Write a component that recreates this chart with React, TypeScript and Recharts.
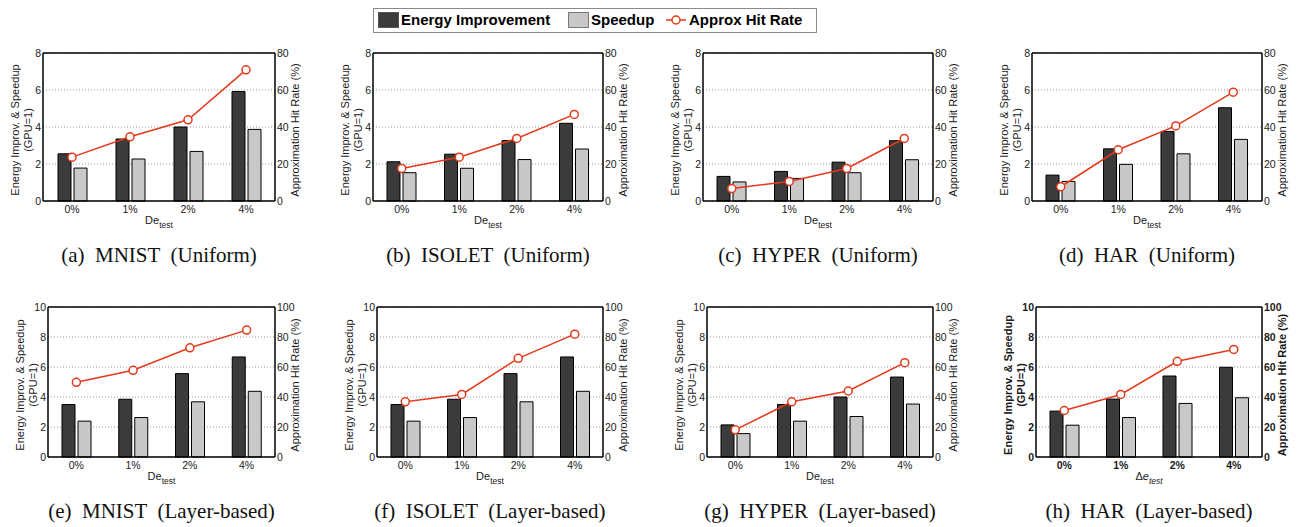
import { ComposedChart, Bar, Line, XAxis, YAxis, CartesianGrid, ReferenceLine } from 'recharts'

// ---------------------------------------------------------------------------
// Data
// ---------------------------------------------------------------------------

const CATEGORIES = ['0%', '1%', '2%', '4%']

const UNIFORM_LEFT_TICKS = [0, 2, 4, 6, 8]
const UNIFORM_RIGHT_TICKS = [0, 20, 40, 60, 80]
const LAYER_LEFT_TICKS = [0, 2, 4, 6, 8, 10]
const LAYER_RIGHT_TICKS = [0, 20, 40, 60, 80, 100]

const mnistUniformEnergy = [2.55, 3.35, 4.0, 5.92]
const mnistUniformSpeedup = [1.78, 2.27, 2.68, 3.87]
const mnistUniformHit = [23.7, 34.7, 43.9, 70.9]

const isoletUniformEnergy = [2.12, 2.53, 3.27, 4.2]
const isoletUniformSpeedup = [1.53, 1.77, 2.24, 2.81]
const isoletUniformHit = [17.6, 23.7, 33.8, 46.8]

const hyperUniformEnergy = [1.33, 1.6, 2.1, 3.26]
const hyperUniformSpeedup = [1.03, 1.22, 1.53, 2.23]
const hyperUniformHit = [6.7, 10.6, 17.6, 33.8]

const harUniformEnergy = [1.4, 2.82, 3.76, 5.04]
const harUniformSpeedup = [1.06, 1.98, 2.55, 3.33]
const harUniformHit = [7.7, 27.7, 40.6, 58.8]

const mnistLayerEnergy = [3.5, 3.85, 5.56, 6.67]
const mnistLayerSpeedup = [2.39, 2.63, 3.68, 4.38]
const mnistLayerHit = [49.8, 57.8, 72.8, 84.6]

const isoletLayerEnergy = [3.5, 3.85, 5.56, 6.67]
const isoletLayerSpeedup = [2.39, 2.63, 3.68, 4.38]
const isoletLayerHit = [36.8, 41.7, 65.8, 81.9]

const hyperLayerEnergy = [2.14, 3.5, 4.0, 5.33]
const hyperLayerSpeedup = [1.56, 2.39, 2.7, 3.53]
const hyperLayerHit = [18.1, 36.8, 44.0, 62.9]

const harLayerEnergy = [3.06, 3.86, 5.4, 5.98]
const harLayerSpeedup = [2.12, 2.63, 3.57, 3.95]
const harLayerHit = [31.0, 41.7, 63.8, 71.7]

// ---------------------------------------------------------------------------
// Colors / fonts
// ---------------------------------------------------------------------------

const DARK = '#3b3b3b'
const LIGHT = '#c8c8c8'
const RED = '#e4391b'
const SANS = '"Liberation Sans", Arial, Helvetica, sans-serif'
const SERIF = '"Liberation Serif", "Times New Roman", serif'

const AXIS_W = 45
const TOP_PAD = 10
const XAXIS_H = 40

// ---------------------------------------------------------------------------
// Panel
// ---------------------------------------------------------------------------

interface PanelProps {
  left: number
  top: number
  plotW: number
  plotH: number
  leftTicks: number[]
  rightTicks: number[]
  energy: number[]
  speedup: number[]
  hit: number[]
  caption: string
  bold?: boolean
}

function Panel({ left, top, plotW, plotH, leftTicks, rightTicks, energy, speedup, hit, caption, bold }: PanelProps) {
  const rows = CATEGORIES.map((cat, i) => ({
    cat,
    energy: energy[i],
    speedup: speedup[i],
    hit: hit[i],
  }))
  const yMax = leftTicks[leftTicks.length - 1]
  const rMax = rightTicks[rightTicks.length - 1]
  const W = AXIS_W + plotW + AXIS_W
  const H = TOP_PAD + plotH + XAXIS_H
  const pL = AXIS_W
  const pR = AXIS_W + plotW
  const pB = TOP_PAD + plotH
  const midY = TOP_PAD + plotH / 2 + 3
  const weight = bold ? 700 : 400
  const tick = { fill: '#1a1a1a', fontSize: 10.5, fontFamily: SANS, fontWeight: weight }

  const leftLabel = () => (
    <g fontFamily={SANS} fontSize={11} fontWeight={weight} fill="#1a1a1a">
      <text transform={`translate(${pL - 28},${midY}) rotate(-90)`} textAnchor="middle" dominantBaseline="central">
        Energy Improv. &amp; Speedup
      </text>
      <text transform={`translate(${pL - 15},${midY}) rotate(-90)`} textAnchor="middle" dominantBaseline="central">
        (GPU=1)
      </text>
    </g>
  )

  const rightLabel = () => (
    <text
      transform={`translate(${pR + 20},${midY}) rotate(-90)`}
      textAnchor="middle"
      dominantBaseline="central"
      fontFamily={SANS}
      fontSize={11}
      fontWeight={weight}
      fill="#1a1a1a"
    >
      Approximation Hit Rate (%)
    </text>
  )

  const xLabel = () => (
    <text x={pL + plotW / 2} y={pB + 23} textAnchor="middle" fontFamily={SANS} fontSize={11} fill="#1a1a1a">
      {bold ? (
        <>
          <tspan>Δ</tspan>
          <tspan fontStyle="italic">e</tspan>
          <tspan dy={4} fontSize={8.5} fontStyle="italic">test</tspan>
        </>
      ) : (
        <>
          <tspan>De</tspan>
          <tspan dy={4} fontSize={8.5}>test</tspan>
        </>
      )}
    </text>
  )

  return (
    <div style={{ position: 'absolute', left: left - AXIS_W, top: top - TOP_PAD, width: W, height: H }}>
      <ComposedChart
        width={W}
        height={H}
        data={rows}
        margin={{ top: TOP_PAD, right: 0, bottom: 0, left: 0 }}
        barSize={13}
        barGap={3}
      >
        <CartesianGrid yAxisId="left" vertical={false} stroke="#9a9a9a" strokeDasharray="1 2" />
        <XAxis
          dataKey="cat"
          interval={0}
          height={XAXIS_H}
          tickLine={false}
          tickSize={0}
          tickMargin={5}
          axisLine={{ stroke: '#000', strokeWidth: 1.5 }}
          tick={tick}
          label={{ content: xLabel }}
        />
        <YAxis
          yAxisId="left"
          orientation="left"
          domain={[0, yMax]}
          ticks={leftTicks}
          width={AXIS_W}
          tickLine={false}
          tickSize={0}
          tickMargin={2}
          axisLine={{ stroke: '#000', strokeWidth: 1.5 }}
          tick={tick}
          label={{ content: leftLabel }}
        />
        <YAxis
          yAxisId="right"
          orientation="right"
          domain={[0, rMax]}
          ticks={rightTicks}
          width={AXIS_W}
          tickLine={false}
          tickSize={0}
          tickMargin={2}
          axisLine={{ stroke: '#000', strokeWidth: 1.5 }}
          tick={tick}
          label={{ content: rightLabel }}
        />
        <ReferenceLine yAxisId="left" y={yMax} stroke="#000" strokeWidth={1.5} />
        <Bar yAxisId="left" dataKey="energy" fill={DARK} stroke="#000" strokeWidth={1} isAnimationActive={false} />
        <Bar yAxisId="left" dataKey="speedup" fill={LIGHT} stroke="#000" strokeWidth={1} isAnimationActive={false} />
        <Line
          yAxisId="right"
          type="linear"
          dataKey="hit"
          stroke={RED}
          strokeWidth={1.5}
          dot={{ r: 4, fill: '#fff', stroke: RED, strokeWidth: 1.5 }}
          isAnimationActive={false}
        />
      </ComposedChart>
      <div
        style={{
          position: 'absolute',
          left: pL + plotW / 2 - 150,
          width: 300,
          top: pB + 42,
          textAlign: 'center',
          fontFamily: SERIF,
          fontSize: 21,
          lineHeight: '24px',
          whiteSpace: 'pre',
          color: '#111',
        }}
      >
        {caption}
      </div>
    </div>
  )
}

// ---------------------------------------------------------------------------
// Legend
// ---------------------------------------------------------------------------

function Legend() {
  const text = { position: 'absolute' as const, top: 1, fontFamily: SANS, fontWeight: 700, fontSize: 15, lineHeight: '20px', color: '#000' }
  return (
    <div style={{ position: 'absolute', left: 373, top: 8, width: 442, height: 23, border: '1px solid #8a8a8a', background: '#fff' }}>
      <div style={{ position: 'absolute', left: 4, top: 3, width: 21, height: 16, background: DARK, border: '1px solid #555', boxSizing: 'border-box' }} />
      <div style={{ ...text, left: 27 }}>Energy Improvement</div>
      <div style={{ position: 'absolute', left: 194, top: 3, width: 21, height: 16, background: LIGHT, border: '1px solid #777', boxSizing: 'border-box' }} />
      <div style={{ ...text, left: 217 }}>Speedup</div>
      <svg style={{ position: 'absolute', left: 291, top: 3 }} width={22} height={16}>
        <line x1={1} y1={8} x2={21} y2={8} stroke={RED} strokeWidth={1.5} />
        <circle cx={11} cy={8} r={4} fill="#fff" stroke={RED} strokeWidth={1.5} />
      </svg>
      <div style={{ ...text, left: 315 }}>Approx Hit Rate</div>
    </div>
  )
}

// ---------------------------------------------------------------------------
// Component
// ---------------------------------------------------------------------------

export default function App() {
  return (
    <div style={{ position: 'absolute', left: 0, top: 0, width: 1299, height: 527, background: '#fff', overflow: 'hidden' }}>
      <Legend />

      {/* Uniform row */}
      <Panel left={43} top={53} plotW={232} plotH={148} leftTicks={UNIFORM_LEFT_TICKS} rightTicks={UNIFORM_RIGHT_TICKS}
        energy={mnistUniformEnergy} speedup={mnistUniformSpeedup} hit={mnistUniformHit} caption="(a)  MNIST  (Uniform)" />
      <Panel left={373} top={53} plotW={230} plotH={148} leftTicks={UNIFORM_LEFT_TICKS} rightTicks={UNIFORM_RIGHT_TICKS}
        energy={isoletUniformEnergy} speedup={isoletUniformSpeedup} hit={isoletUniformHit} caption="(b)  ISOLET  (Uniform)" />
      <Panel left={703} top={53} plotW={230} plotH={148} leftTicks={UNIFORM_LEFT_TICKS} rightTicks={UNIFORM_RIGHT_TICKS}
        energy={hyperUniformEnergy} speedup={hyperUniformSpeedup} hit={hyperUniformHit} caption="(c)  HYPER  (Uniform)" />
      <Panel left={1032} top={53} plotW={230} plotH={148} leftTicks={UNIFORM_LEFT_TICKS} rightTicks={UNIFORM_RIGHT_TICKS}
        energy={harUniformEnergy} speedup={harUniformSpeedup} hit={harUniformHit} caption="(d)  HAR  (Uniform)" />

      {/* Layer-based row */}
      <Panel left={48} top={307} plotW={227} plotH={150} leftTicks={LAYER_LEFT_TICKS} rightTicks={LAYER_RIGHT_TICKS}
        energy={mnistLayerEnergy} speedup={mnistLayerSpeedup} hit={mnistLayerHit} caption="(e)  MNIST  (Layer-based)" />
      <Panel left={377} top={307} plotW={226} plotH={150} leftTicks={LAYER_LEFT_TICKS} rightTicks={LAYER_RIGHT_TICKS}
        energy={isoletLayerEnergy} speedup={isoletLayerSpeedup} hit={isoletLayerHit} caption="(f)  ISOLET  (Layer-based)" />
      <Panel left={707} top={307} plotW={226} plotH={150} leftTicks={LAYER_LEFT_TICKS} rightTicks={LAYER_RIGHT_TICKS}
        energy={hyperLayerEnergy} speedup={hyperLayerSpeedup} hit={hyperLayerHit} caption="(g)  HYPER  (Layer-based)" />
      <Panel left={1036} top={307} plotW={226} plotH={150} leftTicks={LAYER_LEFT_TICKS} rightTicks={LAYER_RIGHT_TICKS}
        energy={harLayerEnergy} speedup={harLayerSpeedup} hit={harLayerHit} caption="(h)  HAR  (Layer-based)" bold />
    </div>
  )
}
